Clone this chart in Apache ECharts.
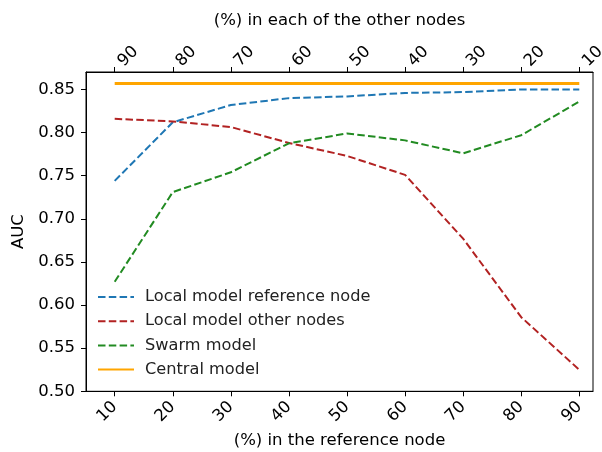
<!DOCTYPE html>
<html>
<head>
<meta charset="utf-8">
<script src="https://cdn.jsdelivr.net/npm/echarts@6/dist/echarts.min.js"></script>
<style>html,body{margin:0;padding:0;background:#fff}#c{width:602px;height:452px}</style>
</head>
<body>
<div id="c"></div>
<script>
// Data
var refPercent = [10, 20, 30, 40, 50, 60, 70, 80, 90];
var otherPercentLabels = ['90', '80', '70', '60', '50', '40', '30', '20', '10'];
var localRef = [0.744, 0.812, 0.832, 0.840, 0.842, 0.846, 0.847, 0.850, 0.850];
var localOther = [0.816, 0.813, 0.8065, 0.788, 0.773, 0.751, 0.677, 0.586, 0.525];
var swarm = [0.627, 0.731, 0.754, 0.7876, 0.799, 0.791, 0.776, 0.797, 0.836];
var central = [0.857, 0.857, 0.857, 0.857, 0.857, 0.857, 0.857, 0.857, 0.857];
var yTicks = [0.50, 0.55, 0.60, 0.65, 0.70, 0.75, 0.80, 0.85];

function pairs(vals) { return refPercent.map(function (x, i) { return [x, vals[i]]; }); }

var FONT = 'DejaVu Sans';
var FS = 16.5;
var chart = echarts.init(document.getElementById('c'), null, { renderer: 'canvas' });

var xCommon = {
  type: 'value', min: 5.06, max: 92.36,
  splitLine: { show: false },
  axisLine: { show: true, lineStyle: { color: '#000', width: 1 } },
  axisTick: { show: true, customValues: refPercent, length: 5, lineStyle: { color: '#000' } },
  nameLocation: 'middle',
  nameTextStyle: { fontFamily: FONT, fontSize: FS, color: '#000' }
};

var option = {
  animation: false,
  backgroundColor: '#fff',
  grid: { left: 86, right: 9, top: 72, bottom: 60.7, show: true, borderColor: '#000', borderWidth: 1,
    containLabel: false, outerBoundsMode: 'none' },
  xAxis: [
    Object.assign({}, xCommon, {
      position: 'bottom',
      name: '(%) in the reference node', nameGap: 40,
      axisLabel: { customValues: refPercent, rotate: 45, margin: 13, fontFamily: FONT, fontSize: FS, color: '#000',
        formatter: function (v) { return String(v); } }
    }),
    Object.assign({}, xCommon, {
      position: 'top',
      name: '(%) in each of the other nodes', nameGap: 43,
      axisLabel: { customValues: refPercent, rotate: -45, margin: 14, align: 'left', verticalAlign: 'top',
        fontFamily: FONT, fontSize: FS, color: '#000',
        formatter: function (v) { return otherPercentLabels[refPercent.indexOf(Math.round(v))]; } }
    })
  ],
  yAxis: {
    type: 'value', min: 0.5, max: 0.8703,
    splitLine: { show: false },
    axisLine: { show: true, lineStyle: { color: '#000' } },
    axisTick: { show: true, customValues: yTicks, length: 5, lineStyle: { color: '#000' } },
    axisLabel: { customValues: yTicks, margin: 11, fontFamily: FONT, fontSize: FS, color: '#000',
      formatter: function (v) { return v.toFixed(2); } },
    name: 'AUC', nameLocation: 'middle', nameGap: 56, nameRotate: 90,
    nameTextStyle: { fontFamily: FONT, fontSize: FS, color: '#000' }
  },
  legend: {
    orient: 'vertical', left: 92, top: 282,
    itemWidth: 36, itemHeight: 12, itemGap: 4.2,
    itemStyle: { opacity: 0 },
    textStyle: { fontFamily: FONT, fontSize: 16.2, lineHeight: 20, color: '#222', padding: [0, 0, 0, 6] },
    data: ['Local model reference node', 'Local model other nodes', 'Swarm model', 'Central model']
  },
  series: [
    { name: 'Local model reference node', type: 'line', data: pairs(localRef), symbol: 'none',
      color: '#1f77b4', lineStyle: { color: '#1f77b4', width: 2, type: [7.5, 3.3] } },
    { name: 'Local model other nodes', type: 'line', data: pairs(localOther), symbol: 'none',
      color: '#b22222', lineStyle: { color: '#b22222', width: 2, type: [7.5, 3.3] } },
    { name: 'Swarm model', type: 'line', data: pairs(swarm), symbol: 'none',
      color: '#228b22', lineStyle: { color: '#228b22', width: 2, type: [7.5, 3.3] } },
    { name: 'Central model', type: 'line', data: pairs(central), symbol: 'none',
      color: '#ffa500', lineStyle: { color: '#ffa500', width: 3, type: 'solid' } }
  ]
};
chart.setOption(option);
</script>
</body>
</html>
